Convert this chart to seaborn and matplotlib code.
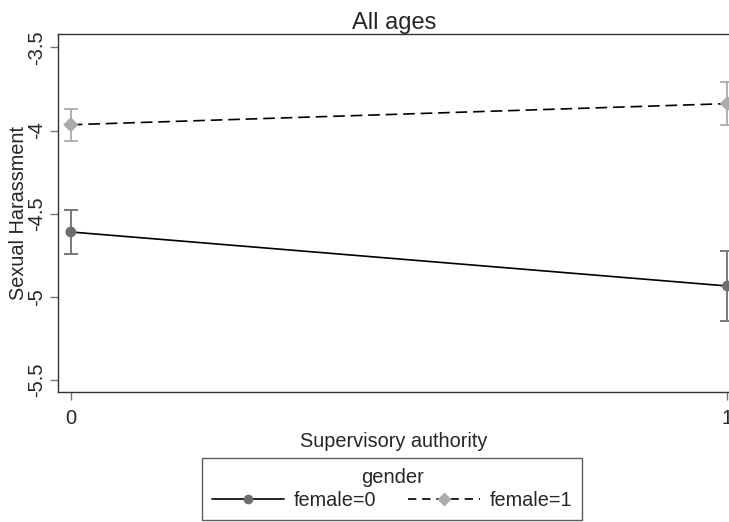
import numpy as np
import pandas as pd
import seaborn as sns
import matplotlib.pyplot as plt
from matplotlib.lines import Line2D

supervisory = [0, 1]
female0_mean = [-4.61, -4.935]
female0_lo = [-4.745, -5.145]
female0_hi = [-4.475, -4.725]
female1_mean = [-3.965, -3.838]
female1_lo = [-4.062, -3.968]
female1_hi = [-3.868, -3.708]
groups = ['female=0', 'female=1']

df = pd.DataFrame({
    'supervisory': supervisory * 2,
    'margin': female0_mean + female1_mean,
    'lo': female0_lo + female1_lo,
    'hi': female0_hi + female1_hi,
    'gender': [groups[0]] * 2 + [groups[1]] * 2,
})

sns.set_style('ticks')
plt.rcParams['font.family'] = ['Liberation Sans', 'DejaVu Sans']

fig = plt.figure(figsize=(7.29, 5.22), dpi=100)
ax = fig.add_axes([0.080, 0.2486, 0.921, 0.686])

marker_cols = {'female=0': '#6e6e6e', 'female=1': '#ababab'}
marker_shapes = {'female=0': 'o', 'female=1': 'D'}

sns.lineplot(data=df, x='supervisory', y='margin', style='gender',
             dashes={'female=0': '', 'female=1': (7, 3.5)}, color='black',
             linewidth=1.2, legend=False, ax=ax)

for g in groups:
    d = df[df['gender'] == g]
    ax.errorbar(d['supervisory'], d['margin'],
                yerr=[d['margin'] - d['lo'], d['hi'] - d['margin']],
                fmt='none', ecolor=marker_cols[g], elinewidth=1.3,
                capsize=5, capthick=1.3, zorder=3)

sns.scatterplot(data=df, x='supervisory', y='margin', hue='gender',
                style='gender', palette=marker_cols, markers=marker_shapes,
                s=60, edgecolor='none', legend=False, zorder=4, ax=ax)

ax.set_xlim(-0.019, 1.0035)
ax.set_ylim(-5.574, -3.42)
ax.set_xticks([0, 1])
ax.set_yticks([-5.5, -5, -4.5, -4, -3.5])
ax.set_yticklabels(['-5.5', '-5', '-4.5', '-4', '-3.5'], rotation=90, va='center')
ax.tick_params(labelsize=14.5, length=6, width=1, color='#777777', pad=3)
ax.tick_params(axis='x', pad=6)
ax.set_xlabel('Supervisory authority', fontsize=14.3, labelpad=3)
ax.set_ylabel('Sexual Harassment', fontsize=14.3, labelpad=-1)
ax.set_title('All ages', fontsize=17, pad=3)
ax.spines['right'].set_visible(False)
for side in ['left', 'bottom', 'top']:
    ax.spines[side].set_color('#333333')
    ax.spines[side].set_linewidth(1.0)

handles = [
    Line2D([0], [0], color='black', lw=1.2, ls='-', marker='o',
           markerfacecolor=marker_cols['female=0'], markeredgecolor='none', markersize=7),
    Line2D([0], [0], color='black', lw=1.2, ls=(0, (5, 3.5)), marker='D',
           markerfacecolor=marker_cols['female=1'], markeredgecolor='none', markersize=7),
]
leg = fig.legend(handles, groups, title='gender', loc='lower center',
                 bbox_to_anchor=(0.538, 0.004), ncol=2, fontsize=14.3,
                 title_fontsize=14.5, handlelength=3.6, columnspacing=1.6,
                 frameon=True, fancybox=False, borderpad=0.5,
                 handletextpad=0.5, labelspacing=0.2, borderaxespad=0.0)
leg.get_frame().set_edgecolor('#333333')
leg.get_frame().set_linewidth(1.0)

fig.savefig('out.png', dpi=100)
